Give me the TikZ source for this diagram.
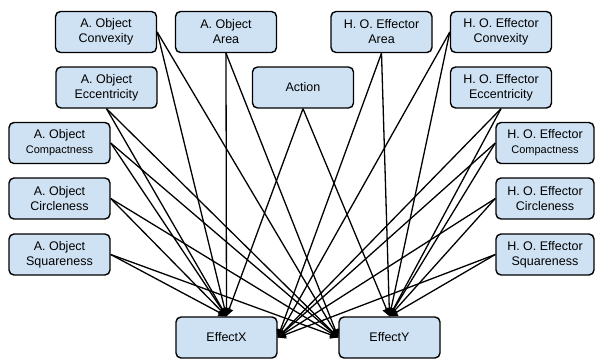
\documentclass[tikz,border=0pt]{standalone}
\usepackage{fontspec}
\setmainfont{Liberation Sans}
\usetikzlibrary{arrows.meta}
\definecolor{boxfill}{HTML}{CFE2F3}
\begin{document}
\begin{tikzpicture}[x=1pt,y=-1pt,
  box/.style={draw=black, line width=1.4pt, fill=boxfill, rounded corners=5pt,
    minimum width=101pt, minimum height=41pt, inner sep=0pt, align=center,
    font=\fontsize{12.5pt}{15pt}\selectfont},
  small/.style={font=\fontsize{11pt}{13pt}\selectfont},
  link/.style={line width=1.3pt, -{Triangle[length=8pt,width=8pt]}}]
\useasboundingbox (0,0) rectangle (595,362);
% feature boxes, left group
\node[box] (aconv) at (106,32) {A. Object\\Convexity};
\node[box] (aarea) at (226,32) {A. Object\\Area};
\node[box] (aecc) at (106.5,87.5) {A. Object\\Eccentricity};
\node[box] (acomp) at (59.5,143) {A. Object\\{\fontsize{11pt}{13pt}\selectfont Compactness}};
\node[box] (acirc) at (59.5,198.5) {A. Object\\Circleness};
\node[box] (asq) at (59.5,254.5) {A. Object\\Squareness};
% action
\node[box] (action) at (303,87.5) {Action};
% feature boxes, right group
\node[box] (harea) at (381.5,32) {H. O. Effector\\Area};
\node[box] (hconv) at (501,32) {H. O. Effector\\Convexity};
\node[box] (hecc) at (501,87.5) {H. O. Effector\\Eccentricity};
\node[box, minimum width=98pt] (hcomp) at (545,143) {H. O. Effector\\{\fontsize{11pt}{13pt}\selectfont Compactness}};
\node[box, minimum width=98pt] (hcirc) at (545,198.5) {H. O. Effector\\Circleness};
\node[box, minimum width=98pt] (hsq) at (545,254.5) {H. O. Effector\\Squareness};
% effects
\node[box] (ex) at (226.5,337.5) {EffectX};
\node[box] (ey) at (389.5,337.5) {EffectY};
% connectors
\foreach \s in {aconv.east, aarea.south, aecc.south, acomp.east, acirc.east, asq.east}{
  \draw[link] (\s) -- (ex.north);
  \draw[link] (\s) -- (ey.west);
}
\foreach \s in {harea.south, hconv.west, hecc.south, hcomp.west, hcirc.west, hsq.west}{
  \draw[link] (\s) -- (ex.east);
  \draw[link] (\s) -- (ey.north);
}
\draw[link] (action.south) -- (ex.north);
\draw[link] (action.south) -- (ey.north);
\end{tikzpicture}
\end{document}
